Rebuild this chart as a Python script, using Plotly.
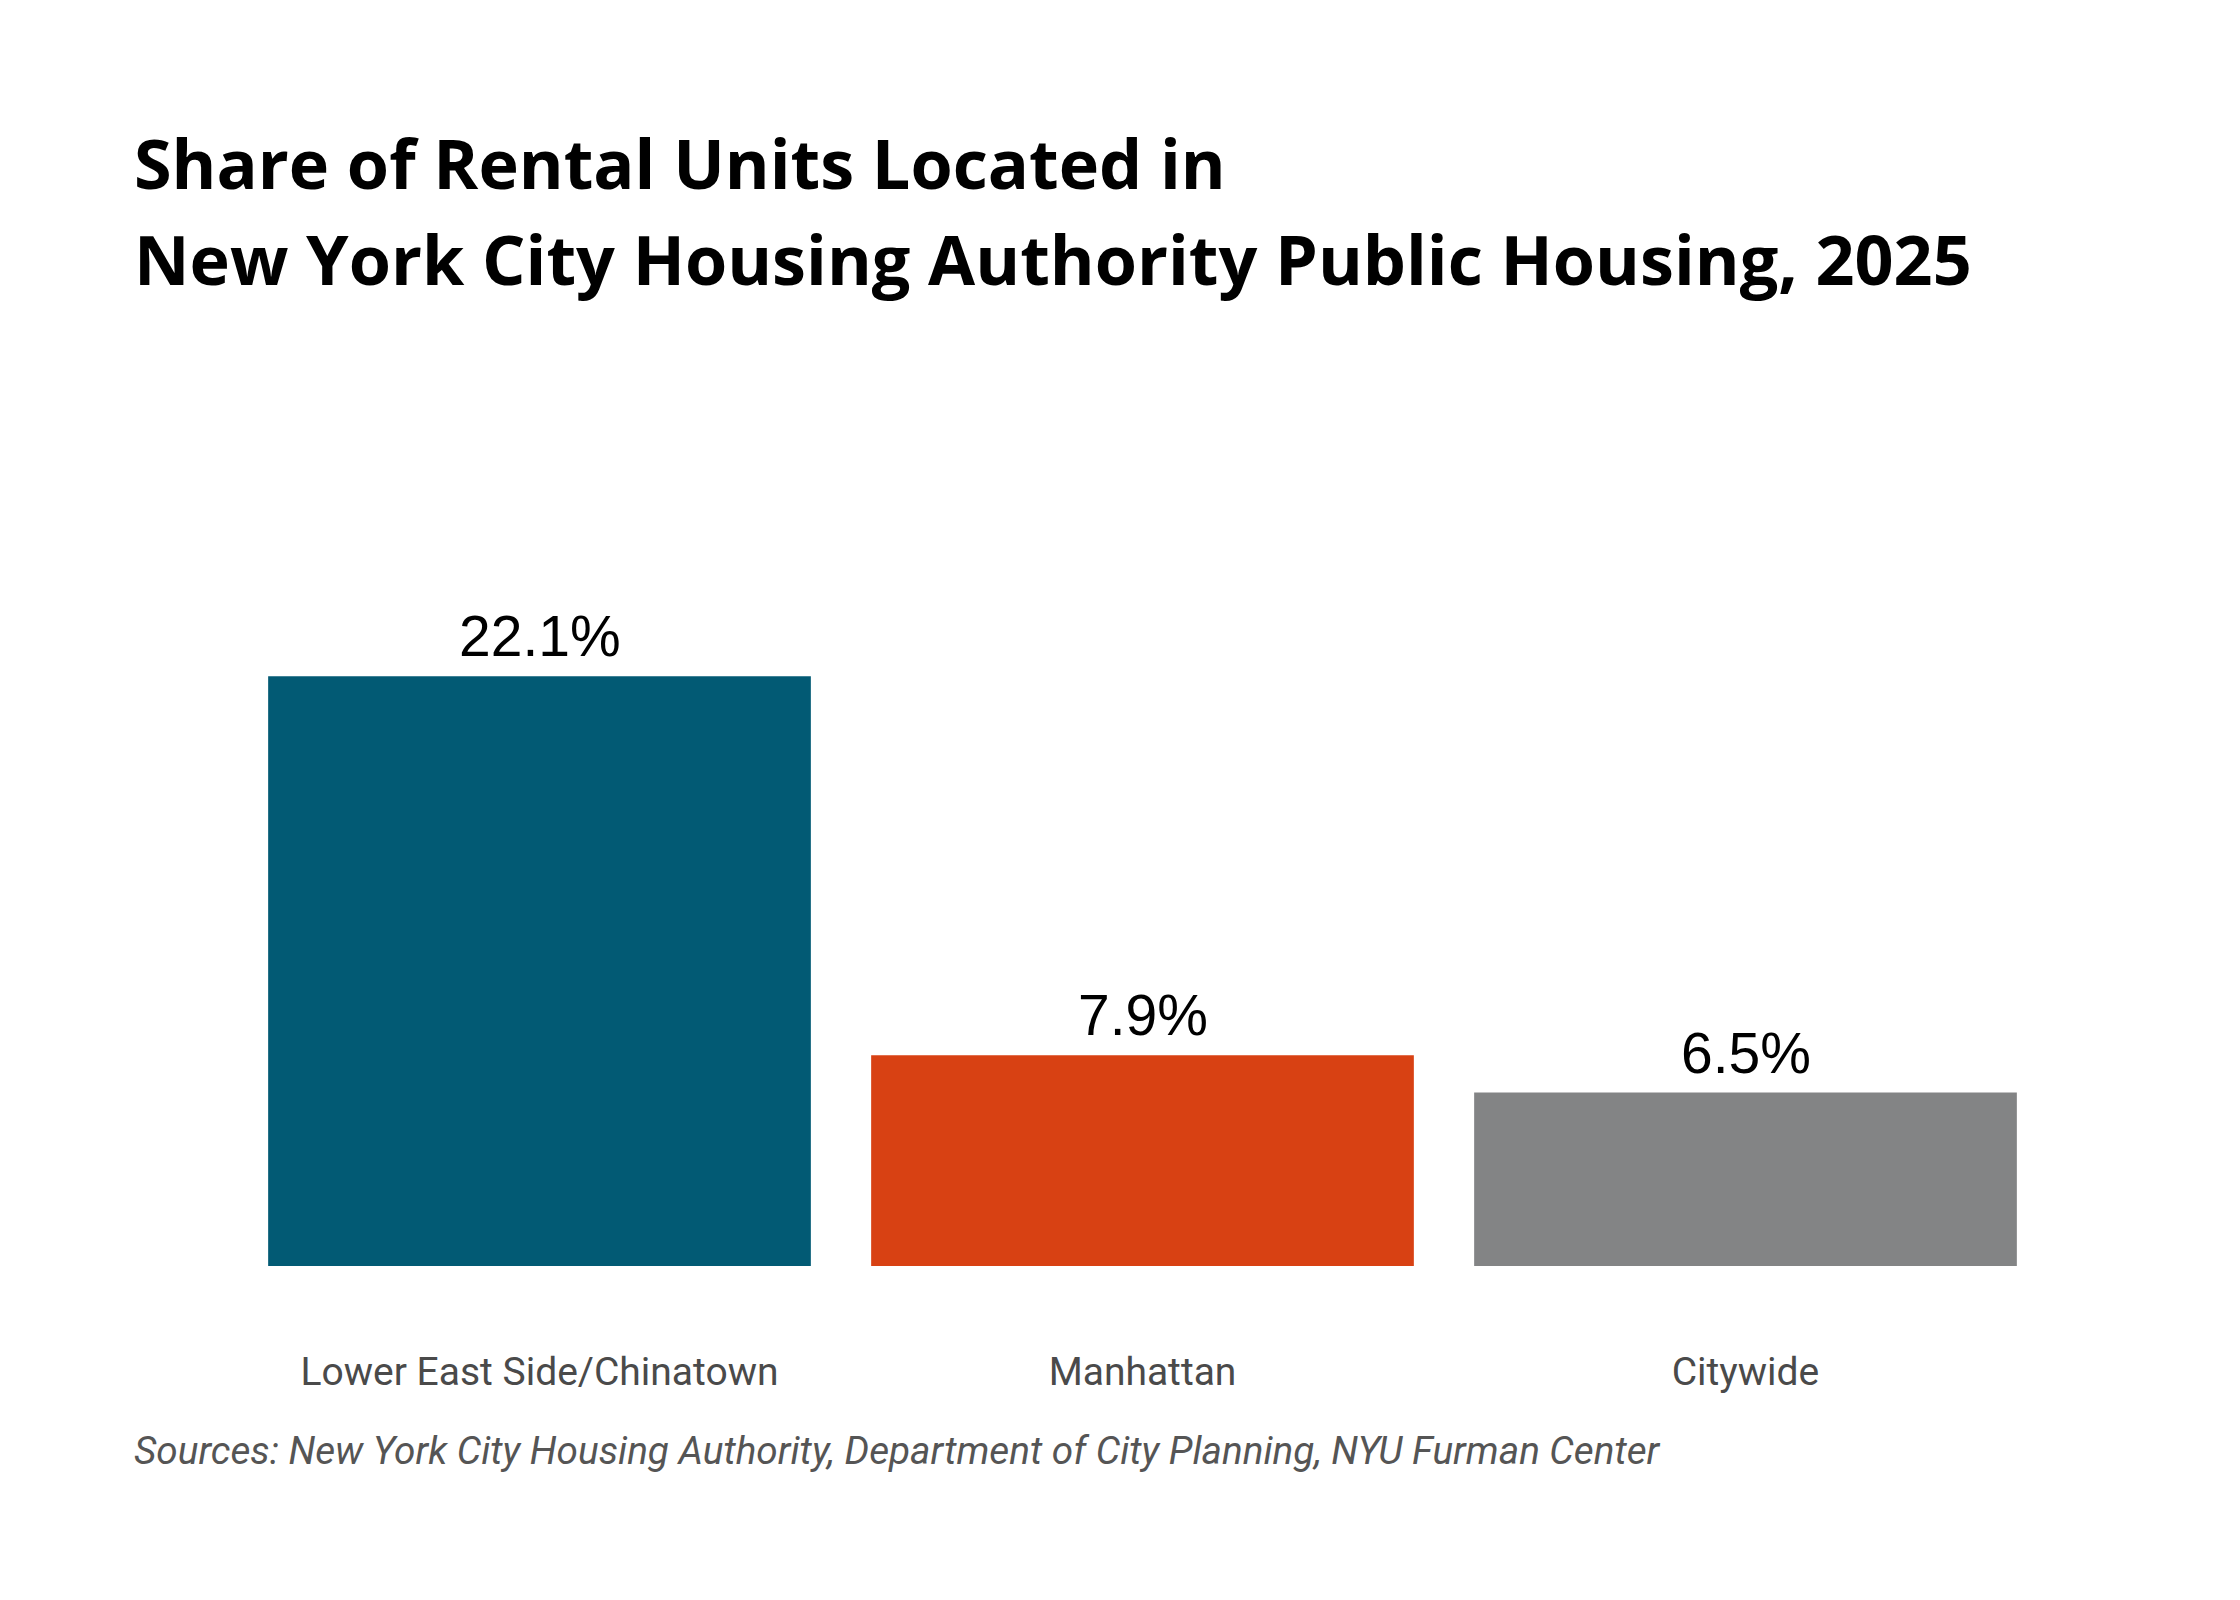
import plotly.graph_objects as go

categories = ["Lower East Side/Chinatown", "Manhattan", "Citywide"]
values = [22.1, 7.9, 6.5]
bar_colors = ["#025a74", "#d84113", "#838485"]
value_labels = ["%.1f%%" % v for v in values]

title_lines = ["Share of Rental Units Located in",
               "New York City Housing Authority Public Housing, 2025"]
source_text = "Sources: New York City Housing Authority, Department of City Planning, NYU Furman Center"

W, H = 2240, 1600
fig = go.Figure()
fig.add_trace(go.Bar(
    x=categories, y=values,
    marker=dict(color=bar_colors, line=dict(width=0)),
    cliponaxis=False, hoverinfo="skip",
))

for c, v, t in zip(categories, values, value_labels):
    fig.add_annotation(x=c, y=v, xref="x", yref="y", text=t, showarrow=False,
                       xanchor="center", yanchor="bottom", yshift=6,
                       font=dict(family="Liberation Sans, Arial, sans-serif", size=57, color="#000000"))

fig.update_layout(
    width=W, height=H,
    margin=dict(l=229.5, r=201, t=590.5, b=342, pad=0),
    paper_bgcolor="white", plot_bgcolor="white",
    bargap=0.1, showlegend=False,
    xaxis=dict(showgrid=False, zeroline=False, showline=False, ticks="",
               tickfont=dict(family="Roboto, sans-serif", size=39, color="#4a4a4a"),
               ticklabelstandoff=79),
    yaxis=dict(range=[0, 25], visible=False, showgrid=False, zeroline=False),
)

fig.add_annotation(text="<b>%s</b>" % title_lines[0], xref="paper", yref="paper",
                   x=-0.0585, y=1.654, xanchor="left", yanchor="middle", showarrow=False,
                   font=dict(family="Open Sans, sans-serif", size=68.3, color="#000000"))
fig.add_annotation(text="<b>%s</b>" % title_lines[1], xref="paper", yref="paper",
                   x=-0.0585, y=1.510, xanchor="left", yanchor="middle", showarrow=False,
                   font=dict(family="Open Sans, sans-serif", size=68.3, color="#000000"))
fig.add_annotation(text="<i>%s</i>" % source_text, xref="paper", yref="paper",
                   x=-0.0585, y=-0.276, xanchor="left", yanchor="middle", showarrow=False,
                   font=dict(family="Roboto, sans-serif", size=38.7, color="#555555"))

fig.write_html("out.html")
